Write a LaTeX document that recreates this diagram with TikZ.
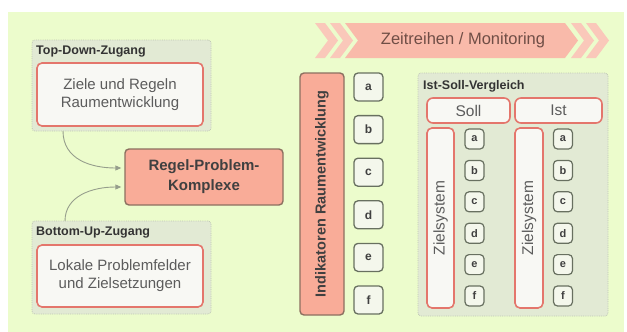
\documentclass[tikz,border=0pt]{standalone}
\usepackage{fontspec}
\setmainfont{Liberation Sans}
\usetikzlibrary{arrows.meta}
\definecolor{bgc}{RGB}{236,252,204}
\definecolor{grpfill}{RGB}{226,234,212}
\definecolor{grpdraw}{RGB}{190,198,180}
\definecolor{redline}{RGB}{228,118,108}
\definecolor{whitebox}{RGB}{248,248,244}
\definecolor{salmon}{RGB}{249,172,152}
\definecolor{darkbrd}{RGB}{140,112,96}
\definecolor{lettbrd}{RGB}{104,112,96}
\definecolor{lettfill}{RGB}{244,247,236}
\definecolor{txtgray}{RGB}{92,92,92}
\definecolor{bannerc}{RGB}{249,186,170}
\definecolor{chevc}{RGB}{250,200,186}
\definecolor{bantxt}{RGB}{112,78,70}
\definecolor{arrc}{RGB}{150,158,140}
\tikzset{
  grp/.style={draw=grpdraw, densely dotted, fill=grpfill, rounded corners=3pt, line width=0.8pt},
  grptitle/.style={anchor=west, font=\bfseries\fontsize{12.5}{14}\selectfont, text=black!80, inner sep=0pt},
  redbox/.style={draw=redline, fill=whitebox, rounded corners=5pt, line width=1.6pt, align=center, text=txtgray, font=\fontsize{15}{18}\selectfont},
  rpbox/.style={draw=darkbrd, fill=salmon, rounded corners=4pt, line width=1.4pt, align=center, text=black!75, font=\bfseries\fontsize{15}{20}\selectfont},
  letbox/.style={draw=lettbrd, fill=lettfill, rounded corners=4pt, line width=1.3pt, minimum width=29pt, minimum height=28pt, inner sep=0pt, font=\bfseries\fontsize{12}{14}\selectfont, text=black!75},
  smallbox/.style={draw=lettbrd, fill=lettfill, rounded corners=4pt, line width=1.2pt, minimum width=19pt, minimum height=20pt, inner sep=0pt, font=\bfseries\fontsize{11}{13}\selectfont, text=black!75},
  conn/.style={draw=arrc, line width=0.9pt, -{Triangle[length=6pt,width=5pt]}, shorten >=3pt},
}
\begin{document}
\begin{tikzpicture}[x=1pt,y=-1pt]
\useasboundingbox (0,0) rectangle (627,332);
\fill[bgc] (8,12) rectangle (624,332);

% Banner
\fill[chevc] (315,23) -- (325,23) -- (338,40.5) -- (325,58) -- (315,58) -- (328,40.5) -- cycle;
\fill[chevc] (330,23) -- (340,23) -- (353,40.5) -- (340,58) -- (330,58) -- (343,40.5) -- cycle;
\fill[bannerc] (345,23) -- (565,23) -- (578,40.5) -- (565,58) -- (345,58) -- (358,40.5) -- cycle;
\fill[chevc] (571,23) -- (581,23) -- (594,40.5) -- (581,58) -- (571,58) -- (584,40.5) -- cycle;
\fill[chevc] (586,23) -- (596,23) -- (609,40.5) -- (596,58) -- (586,58) -- (599,40.5) -- cycle;
\node[text=bantxt, font=\fontsize{16.5}{19}\selectfont] (banner) at (463,40.5) {Zeitreihen / Monitoring};

% Top-Down
\node[grp, minimum width=179pt, minimum height=91pt] (tdg) at (121.5,85.5) {};
\node[grptitle] (tdt) at (36,52) {Top-Down-Zugang};
\node[redbox, minimum width=166pt, minimum height=63pt] (td) at (120,94.5) {Ziele und Regeln\\Raumentwicklung};

% Bottom-Up
\node[grp, minimum width=179pt, minimum height=93pt] (bug) at (121.5,267.5) {};
\node[grptitle] (but) at (36,233) {Bottom-Up-Zugang};
\node[redbox, minimum width=166pt, minimum height=62pt] (bu) at (120,276) {Lokale Problemfelder\\und Zielsetzungen};

% Regel-Problem
\node[rpbox, minimum width=158pt, minimum height=56pt] (rp) at (204,177) {Regel-Problem-\\Komplexe};

\coordinate (s1) at (63,131);
\coordinate (s2) at (65,221);
\draw[conn] (s1) .. controls (63,160) and (92,168) .. ([yshift=9pt]rp.west);
\draw[conn] (s2) .. controls (65,196) and (92,187) .. ([yshift=-10pt]rp.west);

% Indikatoren
\node[rpbox, minimum width=242pt, minimum height=44pt, rotate=90, font=\bfseries\fontsize{14.5}{17}\selectfont] (ind) at (322,194) {Indikatoren Raumentwicklung};
\foreach \l [count=\i from 0] in {a,b,c,d,e,f}{
  \node[letbox] (L\l) at (368.5,87+\i*42.6) {\l};
}

% Ist-Soll-Vergleich
\node[grp, minimum width=190pt, minimum height=243pt] (isg) at (513,194.5) {};
\node[grptitle] (ist) at (423,86) {Ist-Soll-Vergleich};
\node[redbox, rounded corners=6pt, minimum width=83pt, minimum height=25pt, inner sep=0pt, font=\fontsize{15.5}{18}\selectfont] (soll) at (468.5,110.5) {Soll};
\node[redbox, rounded corners=6pt, minimum width=87pt, minimum height=25pt, inner sep=0pt, font=\fontsize{15.5}{18}\selectfont] (istb) at (558.5,110.5) {Ist};
\node[redbox, rotate=90, minimum width=180pt, minimum height=27pt, inner sep=0pt, font=\fontsize{15.5}{18}\selectfont] (zs1) at (440.5,218) {Zielsystem};
\node[redbox, rotate=90, minimum width=180pt, minimum height=28pt, inner sep=0pt, font=\fontsize{15.5}{18}\selectfont] (zs2) at (529,218) {Zielsystem};
\foreach \l [count=\i from 0] in {a,b,c,d,e,f}{
  \node[smallbox] (S\l) at (474.5,139+\i*31.4) {\l};
  \node[smallbox] (I\l) at (563,139+\i*31.4) {\l};
}
\end{tikzpicture}
\end{document}
